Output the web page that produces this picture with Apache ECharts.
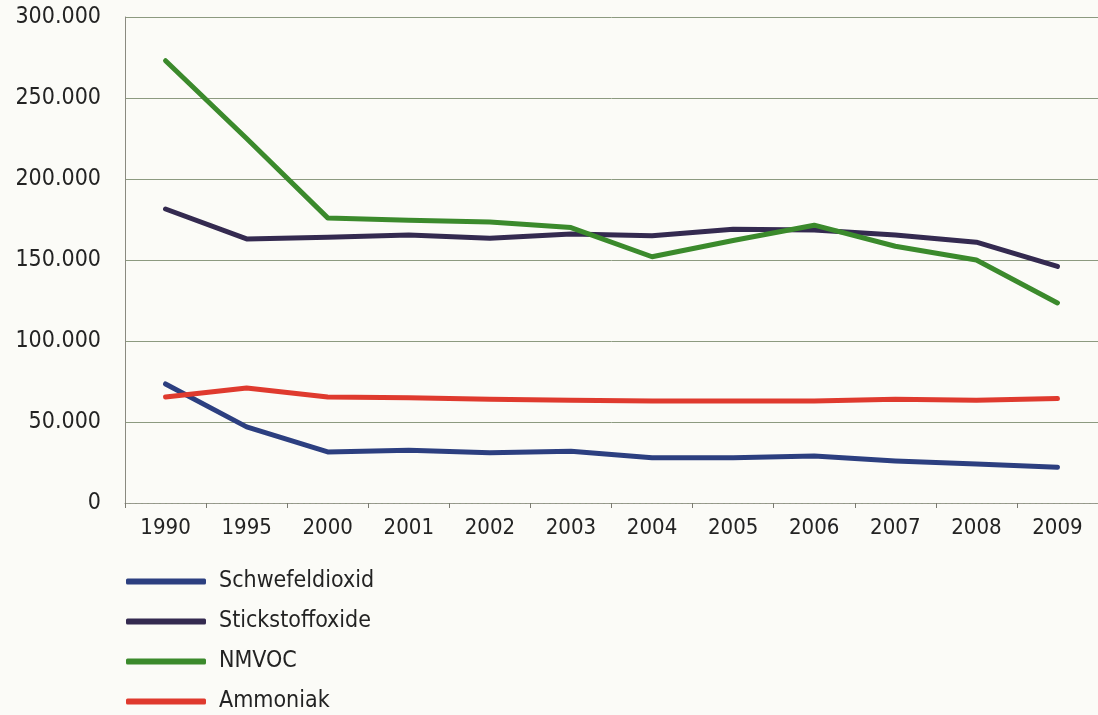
<!DOCTYPE html>
<html>
<head>
<meta charset="utf-8">
<script src="https://cdn.jsdelivr.net/npm/echarts@6/dist/echarts.min.js"></script>
<style>
  html, body { margin: 0; padding: 0; background: #fbfbf7; }
  #chart { width: 1098px; height: 715px; }
</style>
</head>
<body>
<div id="chart"></div>
<script>
const years = ['1990', '1995', '2000', '2001', '2002', '2003', '2004', '2005', '2006', '2007', '2008', '2009'];
const schwefeldioxid = [73500, 47000, 31500, 32500, 31000, 32000, 28000, 28000, 29000, 26000, 24000, 22000];
const stickstoffoxide = [181500, 163000, 164000, 165500, 163500, 166000, 165000, 169000, 168500, 165500, 161000, 146000];
const nmvoc = [273000, 225000, 176000, 174500, 173500, 170000, 152000, 162000, 171500, 158500, 150000, 123500];
const ammoniak = [65500, 71000, 65500, 65000, 64000, 63500, 63000, 63000, 63000, 64000, 63500, 64500];

const fontFamily = '"DejaVu Sans Condensed", "DejaVu Sans", sans-serif';
const textColor = '#232323';

const myCharts = echarts.init(document.getElementById('chart'));

function makeLine(name, data, color) {
    return {
        name: name,
        type: 'line',
        data: data,
        showSymbol: false,
        symbol: 'none',
        lineStyle: { color: color, width: 5, cap: 'round', join: 'round' },
        itemStyle: { color: color }
    };
}

const option = {
    backgroundColor: '#fbfbf7',
    animation: false,
    grid: {
        left: 125,
        top: 17,
        width: 981,
        height: 486
    },
    legend: {
        orient: 'vertical',
        left: 121,
        top: 565,
        height: 150,
        itemWidth: 80,
        itemHeight: 6,
        itemGap: 17,
        icon: 'roundRect',
        textStyle: { fontFamily: fontFamily, fontSize: 23, color: textColor, padding: [0, 0, 0, 8] },
        data: ['Schwefeldioxid', 'Stickstoffoxide', 'NMVOC', 'Ammoniak']
    },
    xAxis: {
        type: 'category',
        data: years,
        boundaryGap: true,
        axisLine: { lineStyle: { color: '#9a9a90', width: 1, type: 'dashed' } },
        axisTick: { show: true, length: 5, lineStyle: { color: '#7a7a70' } },
        axisLabel: { fontFamily: fontFamily, fontSize: 22, color: textColor, margin: 14 },
        splitLine: { show: false }
    },
    yAxis: {
        type: 'value',
        min: 0,
        max: 300000,
        interval: 50000,
        axisLine: { show: true, lineStyle: { color: '#8a8a80', width: 1 } },
        axisTick: { show: false },
        axisLabel: {
            fontFamily: fontFamily,
            fontSize: 23,
            color: textColor,
            margin: 24,
            padding: [5, 0, 0, 0],
            formatter: function (v) {
                return v === 0 ? '0' : (v / 1000) + '.000';
            }
        },
        splitLine: { lineStyle: { color: '#8c9a80', width: 1 } }
    },
    series: [
        makeLine('Schwefeldioxid', schwefeldioxid, '#2c3f80'),
        makeLine('Stickstoffoxide', stickstoffoxide, '#342a50'),
        makeLine('NMVOC', nmvoc, '#3b8a2c'),
        makeLine('Ammoniak', ammoniak, '#df3a2e')
    ]
};

myCharts.setOption(option);
</script>
</body>
</html>
